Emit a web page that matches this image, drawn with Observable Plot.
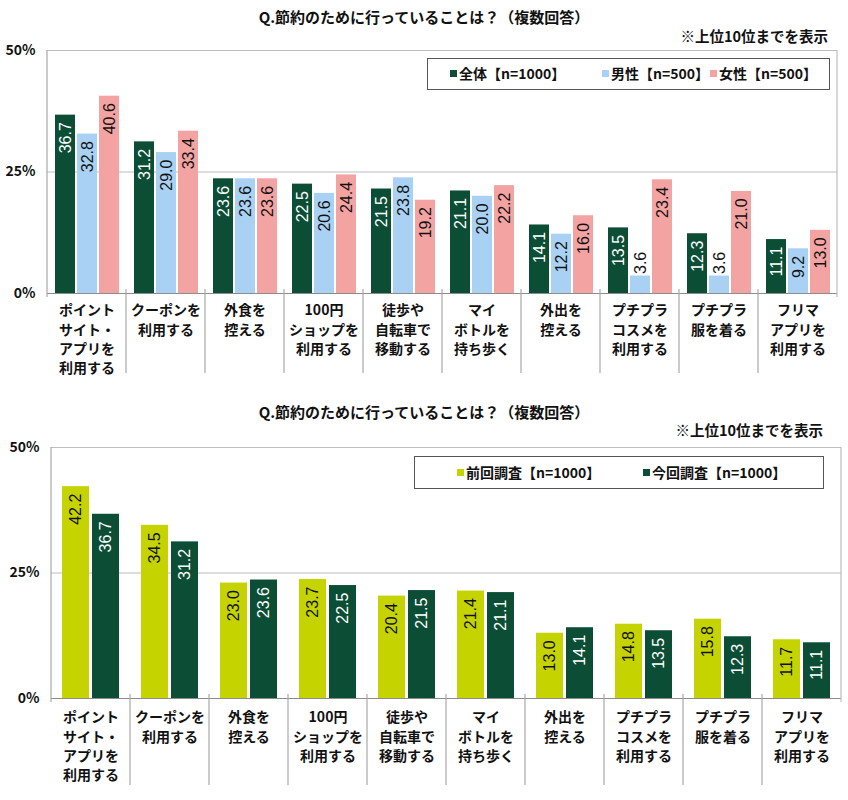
<!DOCTYPE html>
<html>
<head>
<meta charset="utf-8">
<script src="https://cdn.jsdelivr.net/npm/d3@7"></script>
<script src="https://cdn.jsdelivr.net/npm/@observablehq/plot@0.6"></script>
<style>
  body { margin: 0; background: #fff; }
  #wrap { position: relative; width: 848px; height: 800px; font-family: 'Noto Sans CJK JP', sans-serif; color: #111; }
  .title { position: absolute; left: 0; width: 848px; text-align: center; font-size: 15px; font-weight: bold; line-height: 20px; }
  .note { position: absolute; font-size: 14.5px; font-weight: bold; line-height: 20px; text-align: right; }
  .legend { position: absolute; border: 1px solid #555; background: #fff; box-sizing: border-box; }
  .item { position: absolute; font-size: 14px; font-weight: bold; line-height: 20px; white-space: nowrap; }
  .sw { display: inline-block; width: 7px; height: 7px; margin-right: 2px; vertical-align: 2px; }
  .chart { position: absolute; left: 0; }
</style>
</head>
<body>
<div id="wrap">
  <div class="title" style="top:7px;">Q.節約のために行っていることは？（複数回答）</div>
  <div class="note" style="top:26px; right:20px;">※上位10位までを表示</div>
  <div id="c1" class="chart" style="top:0;"></div>
  <div class="legend" style="left:427px; top:58px; width:403px; height:32px;"></div>
  <div id="leg1"></div>

  <div class="title" style="top:402px;">Q.節約のために行っていることは？（複数回答）</div>
  <div class="note" style="top:420px; right:25px;">※上位10位までを表示</div>
  <div id="c2" class="chart" style="top:400px;"></div>
  <div class="legend" style="left:414px; top:456px; width:410px; height:33px;"></div>
  <div id="leg2"></div>
</div>
<script>
const categories = [
  "ポイント\nサイト・\nアプリを\n利用する",
  "クーポンを\n利用する",
  "外食を\n控える",
  "100円\nショップを\n利用する",
  "徒歩や\n自転車で\n移動する",
  "マイ\nボトルを\n持ち歩く",
  "外出を\n控える",
  "プチプラ\nコスメを\n利用する",
  "プチプラ\n服を着る",
  "フリマ\nアプリを\n利用する"
];

const seriesTop = ["全体【n=1000】", "男性【n=500】", "女性【n=500】"];
const colorsTop = ["#0c4e35", "#a9d1f3", "#f4a3a3"];
const allValues    = [36.7, 31.2, 23.6, 22.5, 21.5, 21.1, 14.1, 13.5, 12.3, 11.1];
const maleValues   = [32.8, 29.0, 23.6, 20.6, 23.8, 20.0, 12.2, 3.6, 3.6, 9.2];
const femaleValues = [40.6, 33.4, 23.6, 24.4, 19.2, 22.2, 16.0, 23.4, 21.0, 13.0];

const seriesBottom = ["前回調査【n=1000】", "今回調査【n=1000】"];
const colorsBottom = ["#c5d400", "#0c4e35"];
const prevValues = [42.2, 34.5, 23.0, 23.7, 20.4, 21.4, 13.0, 14.8, 15.8, 11.7];
const currValues = [36.7, 31.2, 23.6, 22.5, 21.5, 21.1, 14.1, 13.5, 12.3, 11.1];

const yTicks = [0, 25, 50];

function buildRows(series, valueLists) {
  return categories.flatMap((c, i) => series.map((s, j) => ({category: c, series: s, value: valueLists[j][i]})));
}

const dataTop = buildRows(seriesTop, [allValues, maleValues, femaleValues]);
const dataBottom = buildRows(seriesBottom, [prevValues, currValues]);

function makeChart(cfg) {
  const {data, series, colors, darkSeries, margins, xPad, labelPad, dividerLen} = cfg;
  const fmt = d => d.value.toFixed(1);
  const common = {fx: "category", x: "series", y: "value", text: fmt, rotate: -90,
    fontSize: 16, fontFamily: "'Liberation Sans', Arial, sans-serif"};
  const fits = d => d.value >= 6;
  const chart = Plot.plot({
    width: 848, height: 400,
    marginTop: margins[0], marginRight: margins[1], marginBottom: margins[2], marginLeft: margins[3],
    style: {fontFamily: "'Noto Sans CJK JP', sans-serif", background: "transparent", color: "#111"},
    fx: {domain: categories, padding: 0, label: null},
    x: {domain: series, paddingInner: xPad[0], paddingOuter: xPad[1], axis: null},
    y: {domain: [0, 50], label: null},
    color: {domain: series, range: colors},
    marks: [
      Plot.ruleY([25, 50], {stroke: "#bdbdbd", strokeWidth: 1.2}),
      Plot.barY(data, {fx: "category", x: "series", y: "value", fill: "series"}),
      Plot.text(data.filter(d => d.series === darkSeries && fits(d)), {...common, textAnchor: "end", dy: 7, fill: "#fff"}),
      Plot.text(data.filter(d => d.series !== darkSeries && fits(d)), {...common, textAnchor: "end", dy: 7, fill: "#111"}),
      Plot.text(data.filter(d => !fits(d)), {...common, textAnchor: "start", dy: -2, fill: "#111"}),
      Plot.ruleY([0], {stroke: "#8c8c8c", strokeWidth: 1.2}),
      Plot.axisY({ticks: yTicks, tickFormat: d => d + "%", tickSize: 0, tickPadding: 12,
        fontSize: 14, fontWeight: "bold", fill: "#111", label: null}),
      Plot.axisFx({anchor: "bottom", tickSize: 0, tickPadding: labelPad, label: null,
        fontSize: 14, fontWeight: "bold", fill: "#111", lineHeight: 1.38})
    ]
  });
  // frame lines and category dividers from the Plot scales
  const fx = chart.scale("fx");
  const y = chart.scale("y");
  const y0 = y.apply(0), y50 = y.apply(50);
  const left = fx.apply(categories[0]);
  const right = fx.apply(categories[categories.length - 1]) + fx.bandwidth;
  const svg = d3.select(chart);
  const g = svg.append("g").attr("stroke-width", 1.2);
  g.append("line").attr("x1", left).attr("x2", left).attr("y1", y50).attr("y2", y0 + 4).attr("stroke", "#a8a8a8");
  g.append("line").attr("x1", right).attr("x2", right).attr("y1", y50).attr("y2", y0 + 4).attr("stroke", "#bdbdbd");
  categories.slice(1).forEach(c => {
    const xb = fx.apply(c);
    g.append("line").attr("x1", xb).attr("x2", xb).attr("y1", y0 - 4).attr("y2", y0 + dividerLen).attr("stroke", "#a8a8a8");
  });
  return chart;
}

document.getElementById("c1").append(makeChart({
  data: dataTop, series: seriesTop, colors: colorsTop, darkSeries: seriesTop[0],
  margins: [50, 11, 107, 46], xPad: [0.11, 0.31], labelPad: 8, dividerLen: 80
}));
document.getElementById("c2").append(makeChart({
  data: dataBottom, series: seriesBottom, colors: colorsBottom, darkSeries: seriesBottom[1],
  margins: [47, 4, 102, 48], xPad: [0.1, 0.34], labelPad: 10, dividerLen: 87
}));

function legend(el, series, colors, lefts, top) {
  const root = document.getElementById(el);
  series.forEach((s, i) => {
    const d = document.createElement("div");
    d.className = "item";
    d.style.left = lefts[i] + "px";
    d.style.top = top + "px";
    d.innerHTML = `<span class="sw" style="background:${colors[i]}"></span>${s}`;
    root.appendChild(d);
  });
}
legend("leg1", seriesTop, colorsTop, [450, 602, 710], 63);
legend("leg2", seriesBottom, colorsBottom, [457, 643], 462);
</script>
</body>
</html>
